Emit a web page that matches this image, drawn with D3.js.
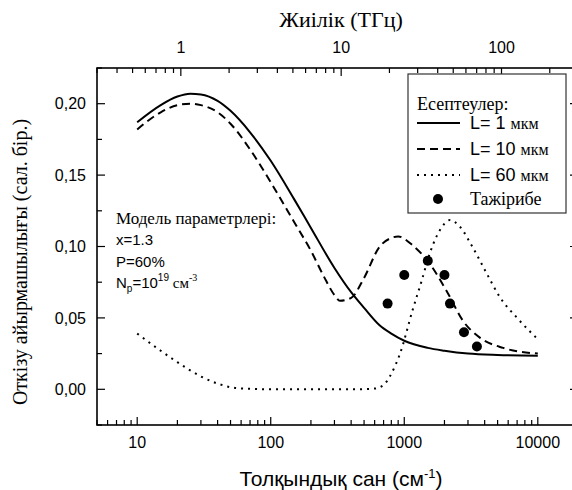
<!DOCTYPE html>
<html>
<head>
<meta charset="utf-8">
<script src="https://cdn.jsdelivr.net/npm/d3@7"></script>
<style>
  body { margin: 0; background: #fff; }
</style>
</head>
<body>
<div id="chart"></div>
<script>
// wavenumber (cm-1) and contrast values
var solidX = [10, 15, 20, 25, 30, 40, 50, 70, 100, 150, 200, 300, 400, 500, 650, 800, 1000, 1500, 2000, 3000, 5000, 10000];
var solidY = [0.187, 0.199, 0.205, 0.207, 0.2065, 0.202, 0.195, 0.180, 0.160, 0.133, 0.113, 0.085, 0.068, 0.057, 0.045, 0.039, 0.034, 0.029, 0.027, 0.025, 0.024, 0.0235];

var dashX = [10, 15, 20, 25, 30, 40, 50, 70, 100, 150, 200, 250, 300, 330, 400, 500, 650, 800, 900, 1150, 1550, 2100, 2750, 3700, 5500, 10000];
var dashY = [0.182, 0.194, 0.199, 0.200, 0.199, 0.194, 0.186, 0.168, 0.145, 0.117, 0.097, 0.079, 0.066, 0.062, 0.064, 0.078, 0.0995, 0.106, 0.107, 0.101, 0.088, 0.068, 0.048, 0.036, 0.029, 0.025];

var dotX = [10, 15, 20, 30, 40, 50, 70, 100, 200, 400, 600, 700, 780, 850, 930, 1150, 1350, 1550, 1850, 2200, 2600, 3250, 4150, 5200, 7000, 10000];
var dotY = [0.039, 0.027, 0.019, 0.009, 0.004, 0.0015, 0.0003, 0, 0, 0, 0.0005, 0.003, 0.009, 0.016, 0.025, 0.055, 0.076, 0.095, 0.1115, 0.1185, 0.114, 0.0995, 0.081, 0.0645, 0.050, 0.035];

var expX = [750, 1000, 1500, 2000, 2200, 2800, 3500];
var expY = [0.06, 0.08, 0.09, 0.08, 0.06, 0.04, 0.03];

var yTicks = [0, 0.05, 0.10, 0.15, 0.20];
var xTicksBottom = [10, 100, 1000, 10000];
var xTicksTop = [1, 10, 100];

var legendLabels = ['L= 1', 'L= 10', 'L= 60'];

const SANS = 'Liberation Sans';
const SERIF = 'Liberation Serif';

const dims = { width: 572, height: 490, left: 97, right: 578, top: 68, bottom: 425 };

const svg = d3.select('#chart').append('svg')
  .attr('width', dims.width)
  .attr('height', dims.height);

const x = d3.scaleLog().domain([5, 20000]).range([dims.left, dims.right]);
const xTop = d3.scaleLog().domain([0.3, 300]).range([dims.left, dims.right]);
const y = d3.scaleLinear().domain([-0.025, 0.225]).range([dims.bottom, dims.top]);

// minor ticks for the log axes
function logMinor(scale) {
  var d = scale.domain(), out = [];
  for (var e = Math.floor(Math.log10(d[0])); e <= Math.ceil(Math.log10(d[1])); e++) {
    for (var m = 1; m < 10; m++) {
      var v = m * Math.pow(10, e);
      if (v >= d[0] && v <= d[1]) out.push(v);
    }
  }
  return out;
}
function isDecade(v) { return Math.abs(Math.log10(v) - Math.round(Math.log10(v))) < 1e-6; }

var majorLen = 8, minorLen = 5;

const frame = svg.append('g').attr('stroke', '#000').attr('stroke-width', 1.6).attr('fill', 'none');
frame.append('rect')
  .attr('x', dims.left).attr('y', dims.top)
  .attr('width', dims.right - dims.left).attr('height', dims.bottom - dims.top);

// bottom + top ticks
logMinor(x).forEach(function(v) {
  var len = isDecade(v) ? majorLen : minorLen;
  frame.append('line').attr('x1', x(v)).attr('x2', x(v))
    .attr('y1', dims.bottom).attr('y2', dims.bottom - len).attr('stroke-width', 1.2);
});
logMinor(xTop).forEach(function(v) {
  var len = isDecade(v) ? majorLen : minorLen;
  frame.append('line').attr('x1', xTop(v)).attr('x2', xTop(v))
    .attr('y1', dims.top).attr('y2', dims.top + len).attr('stroke-width', 1.2);
});

// left + right ticks
d3.range(-0.025, 0.2251, 0.025).forEach(function(v, i) {
  var len = (i % 2 === 1) ? majorLen : minorLen;
  frame.append('line').attr('x1', dims.left).attr('x2', dims.left + len)
    .attr('y1', y(v)).attr('y2', y(v)).attr('stroke-width', 1.2);
  frame.append('line').attr('x1', dims.right).attr('x2', dims.right - len)
    .attr('y1', y(v)).attr('y2', y(v)).attr('stroke-width', 1.2);
});

// tick labels
svg.append('g').selectAll('text').data(yTicks).enter().append('text')
  .style('font-family', SANS).attr('font-size', 16)
  .attr('x', 86).attr('y', function(d) { return y(d); }).attr('dy', '0.35em')
  .attr('text-anchor', 'end')
  .text(function(d) { return d3.format('.2f')(d).replace('.', ','); });

svg.append('g').selectAll('text').data(xTicksBottom).enter().append('text')
  .style('font-family', SANS).attr('font-size', 16)
  .attr('x', function(d) { return x(d); }).attr('y', 448)
  .attr('text-anchor', 'middle')
  .text(function(d) { return d; });

svg.append('g').selectAll('text').data(xTicksTop).enter().append('text')
  .style('font-family', SANS).attr('font-size', 16)
  .attr('x', function(d) { return xTop(d); }).attr('y', 53)
  .attr('text-anchor', 'middle')
  .text(function(d) { return d; });

// axis titles
svg.append('text').style('font-family', SERIF).attr('font-size', 22)
  .attr('x', 341).attr('y', 27).attr('text-anchor', 'middle')
  .text('Жиілік (ТГц)');

var xt = svg.append('text').style('font-family', SANS).attr('font-size', 21)
  .attr('x', 341).attr('y', 486).attr('text-anchor', 'middle');
xt.append('tspan').text('Толқындық сан (см');
xt.append('tspan').attr('font-size', 13).attr('dy', -8).text('-1');
xt.append('tspan').attr('dy', 8).text(')');

svg.append('text').style('font-family', SERIF).attr('font-size', 20)
  .attr('transform', 'translate(27,262) rotate(-90)')
  .attr('text-anchor', 'middle')
  .text('Откізу айырмашылығы (сал. бір.)');

// curves
const line = d3.line()
  .x(function(d) { return x(d[0]); })
  .y(function(d) { return y(d[1]); })
  .curve(d3.curveMonotoneX);

var series = [
  { xs: solidX, ys: solidY, dash: null },
  { xs: dashX, ys: dashY, dash: '8,5' },
  { xs: dotX, ys: dotY, dash: '2,5' }
];

series.forEach(function(s) {
  svg.append('path')
    .datum(d3.zip(s.xs, s.ys))
    .attr('fill', 'none')
    .attr('stroke', '#000')
    .attr('stroke-width', 2)
    .attr('stroke-dasharray', s.dash)
    .attr('d', line);
});

svg.append('g').selectAll('circle').data(d3.zip(expX, expY)).enter().append('circle')
  .attr('cx', function(d) { return x(d[0]); })
  .attr('cy', function(d) { return y(d[1]); })
  .attr('r', 5)
  .attr('fill', '#000');

// legend
const lg = svg.append('g');
lg.append('rect').attr('x', 408).attr('y', 74).attr('width', 158).attr('height', 139)
  .attr('fill', '#fff').attr('stroke', '#333').attr('stroke-width', 1.2);
lg.append('text').style('font-family', SERIF).attr('font-size', 18)
  .attr('x', 417).attr('y', 110).text('Есептеулер:');

var rowY = [123, 149, 175];
series.forEach(function(s, i) {
  lg.append('line').attr('x1', 417).attr('x2', 460)
    .attr('y1', rowY[i]).attr('y2', rowY[i])
    .attr('stroke', '#000').attr('stroke-width', 2)
    .attr('stroke-dasharray', s.dash);
  var t = lg.append('text').attr('x', 470).attr('y', rowY[i]).attr('dy', '0.36em');
  t.append('tspan').style('font-family', SANS).attr('font-size', 18).text(legendLabels[i] + ' ');
  t.append('tspan').style('font-family', SERIF).attr('font-size', 16).text('мкм');
});
lg.append('circle').attr('cx', 438).attr('cy', 199).attr('r', 5).attr('fill', '#000');
lg.append('text').style('font-family', SERIF).attr('font-size', 18)
  .attr('x', 470).attr('y', 199).attr('dy', '0.36em').text('Тажірибе');

// model parameters note
const note = svg.append('g');
note.append('text').style('font-family', SERIF).attr('font-size', 17)
  .attr('x', 116).attr('y', 224).text('Модель параметрлері:');
note.append('text').style('font-family', SANS).attr('font-size', 15)
  .attr('x', 116).attr('y', 245).text('x=1.3');
note.append('text').style('font-family', SANS).attr('font-size', 15)
  .attr('x', 116).attr('y', 267).text('P=60%');
var np = note.append('text').style('font-family', SANS).attr('font-size', 15)
  .attr('x', 116).attr('y', 288);
np.append('tspan').text('N');
np.append('tspan').attr('font-size', 10).attr('dy', 4).text('p');
np.append('tspan').attr('dy', -4).text('=10');
np.append('tspan').attr('font-size', 10).attr('dy', -7).text('19');
np.append('tspan').style('font-family', SERIF).attr('dy', 7).text(' см');
np.append('tspan').style('font-family', SERIF).attr('font-size', 10).attr('dy', -7).text('-3');
</script>
</body>
</html>
